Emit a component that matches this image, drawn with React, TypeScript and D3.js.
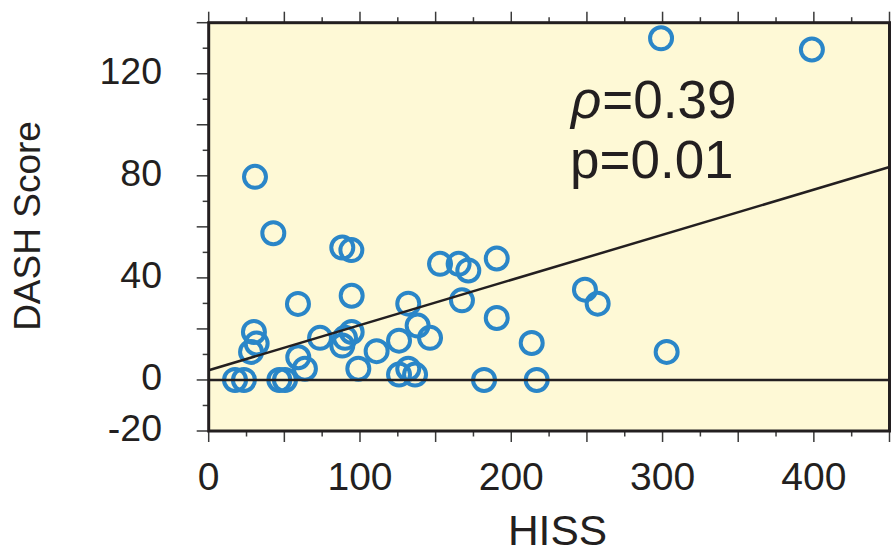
import { useEffect, useRef } from "react";
import * as d3 from "d3";

// HISS (x) and DASH score (y) for each patient
const hiss = [
  30.6, 299, 398.7, 42.7, 88.3, 94.3, 152.9, 165.2, 171.6, 190.4, 59.0, 94.5, 131.9, 167.4,
  190.4, 29.9, 31.7, 28, 73.6, 88.3, 90.1, 94.5, 59.2, 63.6, 98.9, 111, 125.8, 138.1, 146.3,
  125.8, 131.9, 136.4, 17.4, 23.3, 46.7, 50.4, 182, 213.5, 216.8, 248.7, 257.1, 302.7,
];
const dash = [
  79.6, 133.9, 129.5, 57.5, 51.9, 50.9, 45.5, 45.5, 42.9, 47.6, 29.8, 33.0, 29.9, 31.2, 24.3,
  18.8, 14.3, 11, 16.5, 13.5, 16.5, 18.8, 8.9, 4.4, 4.4, 11.3, 15.4, 21.3, 16.5, 2.1, 4.4, 2.1,
  0, 0, 0, 0, 0, 14.5, 0, 35.4, 29.9, 11.0,
];
const xTickLabels = [0, 100, 200, 300, 400];
const yTickLabels = [-20, 0, 40, 80, 120];
const fitIntercept = 3.8;
const fitSlope = 0.177;

const W = 891;
const H = 553;
const FONT = "'Liberation Sans', Arial, Helvetica, sans-serif";
const INK = "#231f20";

const App = () => {
  const svgRef = useRef<SVGSVGElement>(null);

  useEffect(() => {
    const svg = d3.select(svgRef.current);
    svg.selectAll("*").remove();

    const x = d3.scaleLinear().domain([0, 450]).range([208.7, 889.5]);
    const y = d3.scaleLinear().domain([-20, 140]).range([431, 22.7]);
    const [x0, x1] = x.range();
    const [yb, yt] = y.range();

    // plot background
    svg
      .append("rect")
      .attr("x", x0)
      .attr("y", yt)
      .attr("width", x1 - x0)
      .attr("height", yb - yt)
      .attr("fill", "#fef9d6");

    // ticks
    const g = svg.append("g").attr("stroke", "#3a3a3a").attr("stroke-width", 1.5);
    d3.range(0, 451, 25).forEach((v) => {
      const len = v % 50 === 0 ? 11 : 5.5;
      g.append("line").attr("x1", x(v)).attr("x2", x(v)).attr("y1", yb).attr("y2", yb + len);
      g.append("line").attr("x1", x(v)).attr("x2", x(v)).attr("y1", yt).attr("y2", yt - len);
    });
    d3.range(-20, 141, 10).forEach((v) => {
      const len = v % 20 === 0 ? 12 : 6;
      g.append("line").attr("x1", x0 - len).attr("x2", x0).attr("y1", y(v)).attr("y2", y(v));
    });

    // points
    svg
      .append("g")
      .selectAll("circle")
      .data(hiss.map((h, i) => [h, dash[i]]))
      .join("circle")
      .attr("cx", (d) => x(d[0]))
      .attr("cy", (d) => y(d[1]))
      .attr("r", 11)
      .attr("fill", "none")
      .attr("stroke", "#2a86c8")
      .attr("stroke-width", 4);

    // zero line and fitted line
    svg
      .append("line")
      .attr("x1", x0)
      .attr("x2", x1)
      .attr("y1", y(0))
      .attr("y2", y(0))
      .attr("stroke", INK)
      .attr("stroke-width", 2.5);
    const line = d3
      .line<number>()
      .x((d) => x(d))
      .y((d) => y(fitIntercept + fitSlope * d));
    svg
      .append("path")
      .attr("d", line([0, 450]))
      .attr("stroke", INK)
      .attr("stroke-width", 2.5)
      .attr("fill", "none");

    // frame
    svg
      .append("rect")
      .attr("x", x0)
      .attr("y", yt)
      .attr("width", x1 - x0)
      .attr("height", yb - yt)
      .attr("fill", "none")
      .attr("stroke", INK)
      .attr("stroke-width", 3);

    // tick labels
    svg
      .append("g")
      .selectAll("text")
      .data(xTickLabels)
      .join("text")
      .attr("x", (d) => x(d))
      .attr("y", 490)
      .attr("text-anchor", "middle")
      .attr("font-size", 39)
      .attr("font-family", FONT)
      .attr("fill", INK)
      .text((d) => d);
    svg
      .append("g")
      .selectAll("text")
      .data(yTickLabels)
      .join("text")
      .attr("x", 162)
      .attr("y", (d) => y(d) + 10)
      .attr("text-anchor", "end")
      .attr("font-size", 37.5)
      .attr("font-family", FONT)
      .attr("fill", INK)
      .text((d) => d);

    // axis titles
    svg
      .append("text")
      .attr("x", 557.5)
      .attr("y", 545)
      .attr("text-anchor", "middle")
      .attr("font-size", 42.5)
      .attr("font-family", FONT)
      .attr("fill", INK)
      .text("HISS");
    svg
      .append("text")
      .attr("transform", "translate(40,226) rotate(-90)")
      .attr("text-anchor", "middle")
      .attr("font-size", 37)
      .attr("font-family", FONT)
      .attr("fill", INK)
      .text("DASH Score");

    // correlation annotation
    const ann = svg.append("text").attr("font-size", 53).attr("font-family", FONT).attr("fill", INK);
    ann.append("tspan").attr("x", 571).attr("y", 118).attr("font-style", "italic").text("ρ");
    ann.append("tspan").attr("dx", 1).text("=0.39");
    svg
      .append("text")
      .attr("x", 570)
      .attr("y", 178)
      .attr("font-size", 53)
      .attr("font-family", FONT)
      .attr("fill", INK)
      .text("p=0.01");
  }, []);

  return (
    <svg
      ref={svgRef}
      width={W}
      height={H}
      style={{ position: "absolute", left: 0, top: 0, background: "#fff" }}
    ></svg>
  );
};

export default App;
